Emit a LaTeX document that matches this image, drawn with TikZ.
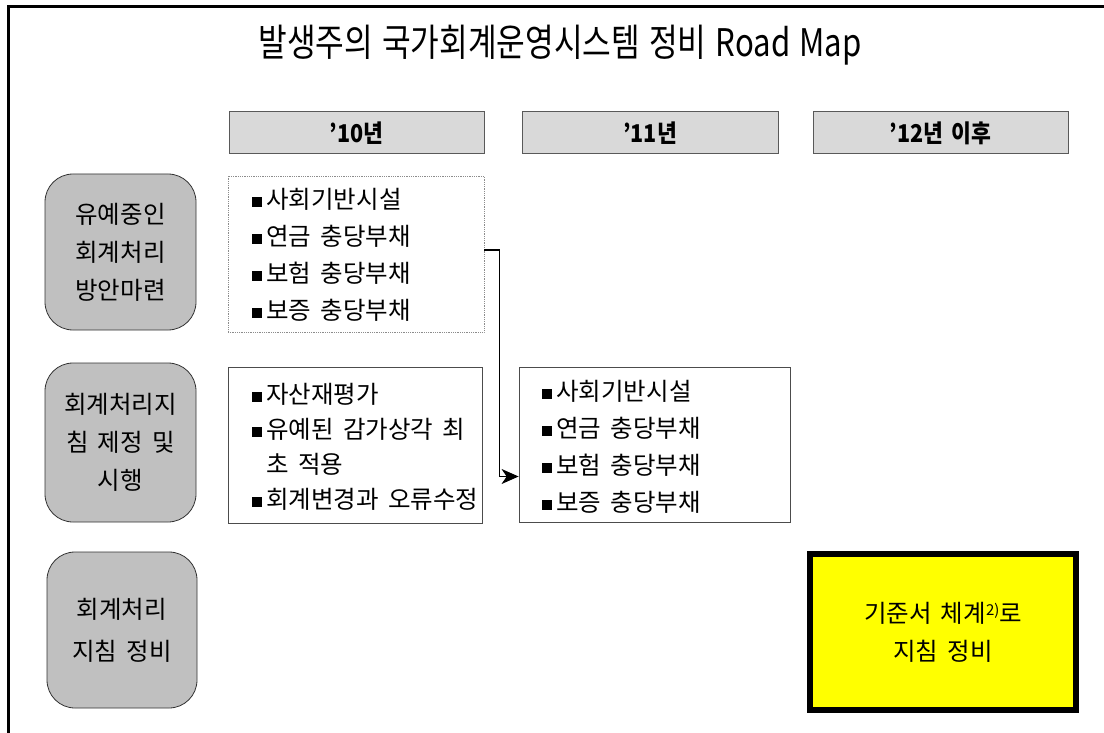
\documentclass[tikz,border=0pt]{standalone}
\usepackage{fontspec}
\setmainfont{Noto Sans CJK KR}[WordSpace=1.7]
\newfontfamily\titlefont[FakeStretch=0.82,WordSpace=1.3]{Noto Sans CJK KR}
\newfontfamily\hdrfont[FakeStretch=0.88,WordSpace=1.7]{Noto Sans CJK KR}
\usetikzlibrary{arrows.meta}
\definecolor{hdr}{HTML}{D9D9D9}
\definecolor{rnd}{HTML}{C0C0C0}
\definecolor{ylw}{HTML}{FFFF00}
\newcommand\bul{\rule[1.5pt]{10pt}{10pt}\hspace{4.5pt}}
\begin{document}
\begin{tikzpicture}[x=1pt,y=-1pt,
  hdrbox/.style={draw=black!65,fill=hdr,line width=1pt,minimum height=42pt,inner sep=0pt,
    font=\hdrfont\fontsize{24.5}{28}\selectfont\bfseries},
  rndbox/.style={draw=black!80,fill=rnd,line width=0.8pt,rounded corners=28pt,inner sep=0pt,
    align=center,font=\fontsize{24.5}{38}\selectfont},
  listbox/.style={draw=black!70,line width=0.8pt,inner sep=0pt},
  listtext/.style={anchor=west,align=left,inner sep=0pt,font=\fontsize{24.5}{37}\selectfont},
  conn/.style={draw=black,line width=1.2pt,-{Stealth[length=17pt,width=15pt,inset=5pt]}}
]
\useasboundingbox (0,0) rectangle (1104,733);
\fill[white] (0,0) rectangle (1104,733);
% outer frame
\draw[line width=3pt] (8,733) -- (8,7) -- (1104,7);

% title
\node (title) at (560,45) {\titlefont\fontsize{38}{42}\selectfont 발생주의 국가회계운영시스템 정비 Road Map};

% headers
\node[hdrbox,minimum width=255pt] (h1) at (356.5,133) {’10년};
\node[hdrbox,minimum width=256pt] (h2) at (650,133) {’11년};
\node[hdrbox,minimum width=255pt] (h3) at (940.5,133) {’12년 이후};

% row labels
\node[rndbox,minimum width=151pt,minimum height=156pt] (r1) at (120.5,252) {유예중인\\회계처리\\방안마련};
\node[rndbox,minimum width=151pt,minimum height=159pt] (r2) at (120.5,442.5) {회계처리지\\침 제정 및\\시행};
\node[rndbox,minimum width=150pt,minimum height=156pt,font=\fontsize{24.5}{42}\selectfont] (r3) at (122,630) {회계처리\\지침 정비};

% list boxes
\node[listbox,draw=black!45,densely dotted,minimum width=256pt,minimum height=156pt] (d1) at (356,254) {};
\node[listtext] (d1t) at ([xshift=24pt,yshift=-1pt]d1.west) {\bul 사회기반시설\\\bul 연금 충당부채\\\bul 보험 충당부채\\\bul 보증 충당부채};

\node[listbox,minimum width=254pt,minimum height=156pt] (b2) at (355,445) {};
\node[listtext,font=\fontsize{24.5}{35}\selectfont] (b2t) at ([xshift=24pt,yshift=-2pt]b2.west) {\bul 자산재평가\\\bul 유예된 감가상각 최\\\hspace{14.5pt}초 적용\\\bul 회계변경과 오류수정};

\node[listbox,minimum width=271pt,minimum height=155pt] (b3) at (654.5,444.5) {};
\node[listtext] (b3t) at ([xshift=23pt,yshift=-2pt]b3.west) {\bul 사회기반시설\\\bul 연금 충당부채\\\bul 보험 충당부채\\\bul 보증 충당부채};

% connector
\draw[conn] ([yshift=4pt]d1.east) -- ++(15pt,0) |- ([yshift=-32pt]b3.west);

% yellow box
\node[draw=black,line width=6pt,fill=ylw,minimum width=266pt,minimum height=156pt,align=center,
  font=\fontsize{24.5}{38}\selectfont] (y1) at (943,632) {기준서 체계\raisebox{7pt}{\fontsize{15}{15}\selectfont 2)}로\\지침 정비};
\end{tikzpicture}
\end{document}
